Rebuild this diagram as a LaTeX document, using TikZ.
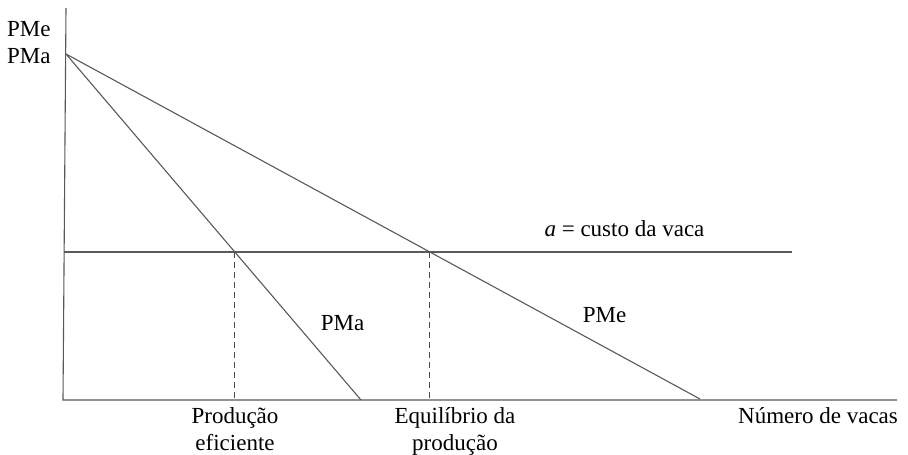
\documentclass[tikz,border=0pt]{standalone}
\usepackage{fontspec}
\setmainfont{Liberation Serif}
\usetikzlibrary{positioning}

\begin{document}
\begin{tikzpicture}[x=1pt, y=-1pt,
    curve/.style={draw=black!65, line width=1.1pt},
    guide/.style={draw=black!70, line width=1pt, dash pattern=on 6pt off 4pt},
    lbl/.style={inner sep=0pt, font=\fontsize{23}{27}\selectfont}]
    \useasboundingbox (0,0) rectangle (908,455);

    % Axes
    \coordinate (o) at (63,400);
    \coordinate (ytop) at (66,8);
    \coordinate (xend) at (897,400);
    \draw[curve] (ytop) -- (o) -- (xend);

    % Product curves
    \coordinate (start) at (66,54);
    \coordinate (pmaend) at (361,400);
    \coordinate (pmeend) at (700,399);
    \draw[curve] (start) -- (pmaend);
    \draw[curve] (start) -- (pmeend);

    % Cost line
    \coordinate (cost0) at (64,252);
    \coordinate (cost1) at (792,252);
    \draw[curve] (cost0) -- (cost1);

    % Dashed guides
    \coordinate (eff) at (intersection of start--pmaend and cost0--cost1);
    \coordinate (eq) at (intersection of start--pmeend and cost0--cost1);
    \draw[guide] (eff) -- (eff |- o);
    \draw[guide] (eq) -- (eq |- o);

    % Labels
    \node[lbl, anchor=north west, align=left] (yaxis) at (7,21) {PMe\\PMa};
    \node[lbl, anchor=base] (pmalbl) at (342.5,330.7) {PMa};
    \node[lbl, anchor=base] (pmelbl) at (604.5,322.7) {PMe};
    \node[lbl, anchor=base] (costlbl) at (624.5,236.7) {\textit{a} = custo da vaca};
    \node[lbl, anchor=base west] (xaxis) at (738,423) {Número de vacas};
    \node[lbl, anchor=north, align=center] (efflbl) at (235,407.3) {Produção\\eficiente};
    \node[lbl, anchor=north, align=center] (eqlbl) at (455,407.3) {Equilíbrio da\\produção};
\end{tikzpicture}
\end{document}
